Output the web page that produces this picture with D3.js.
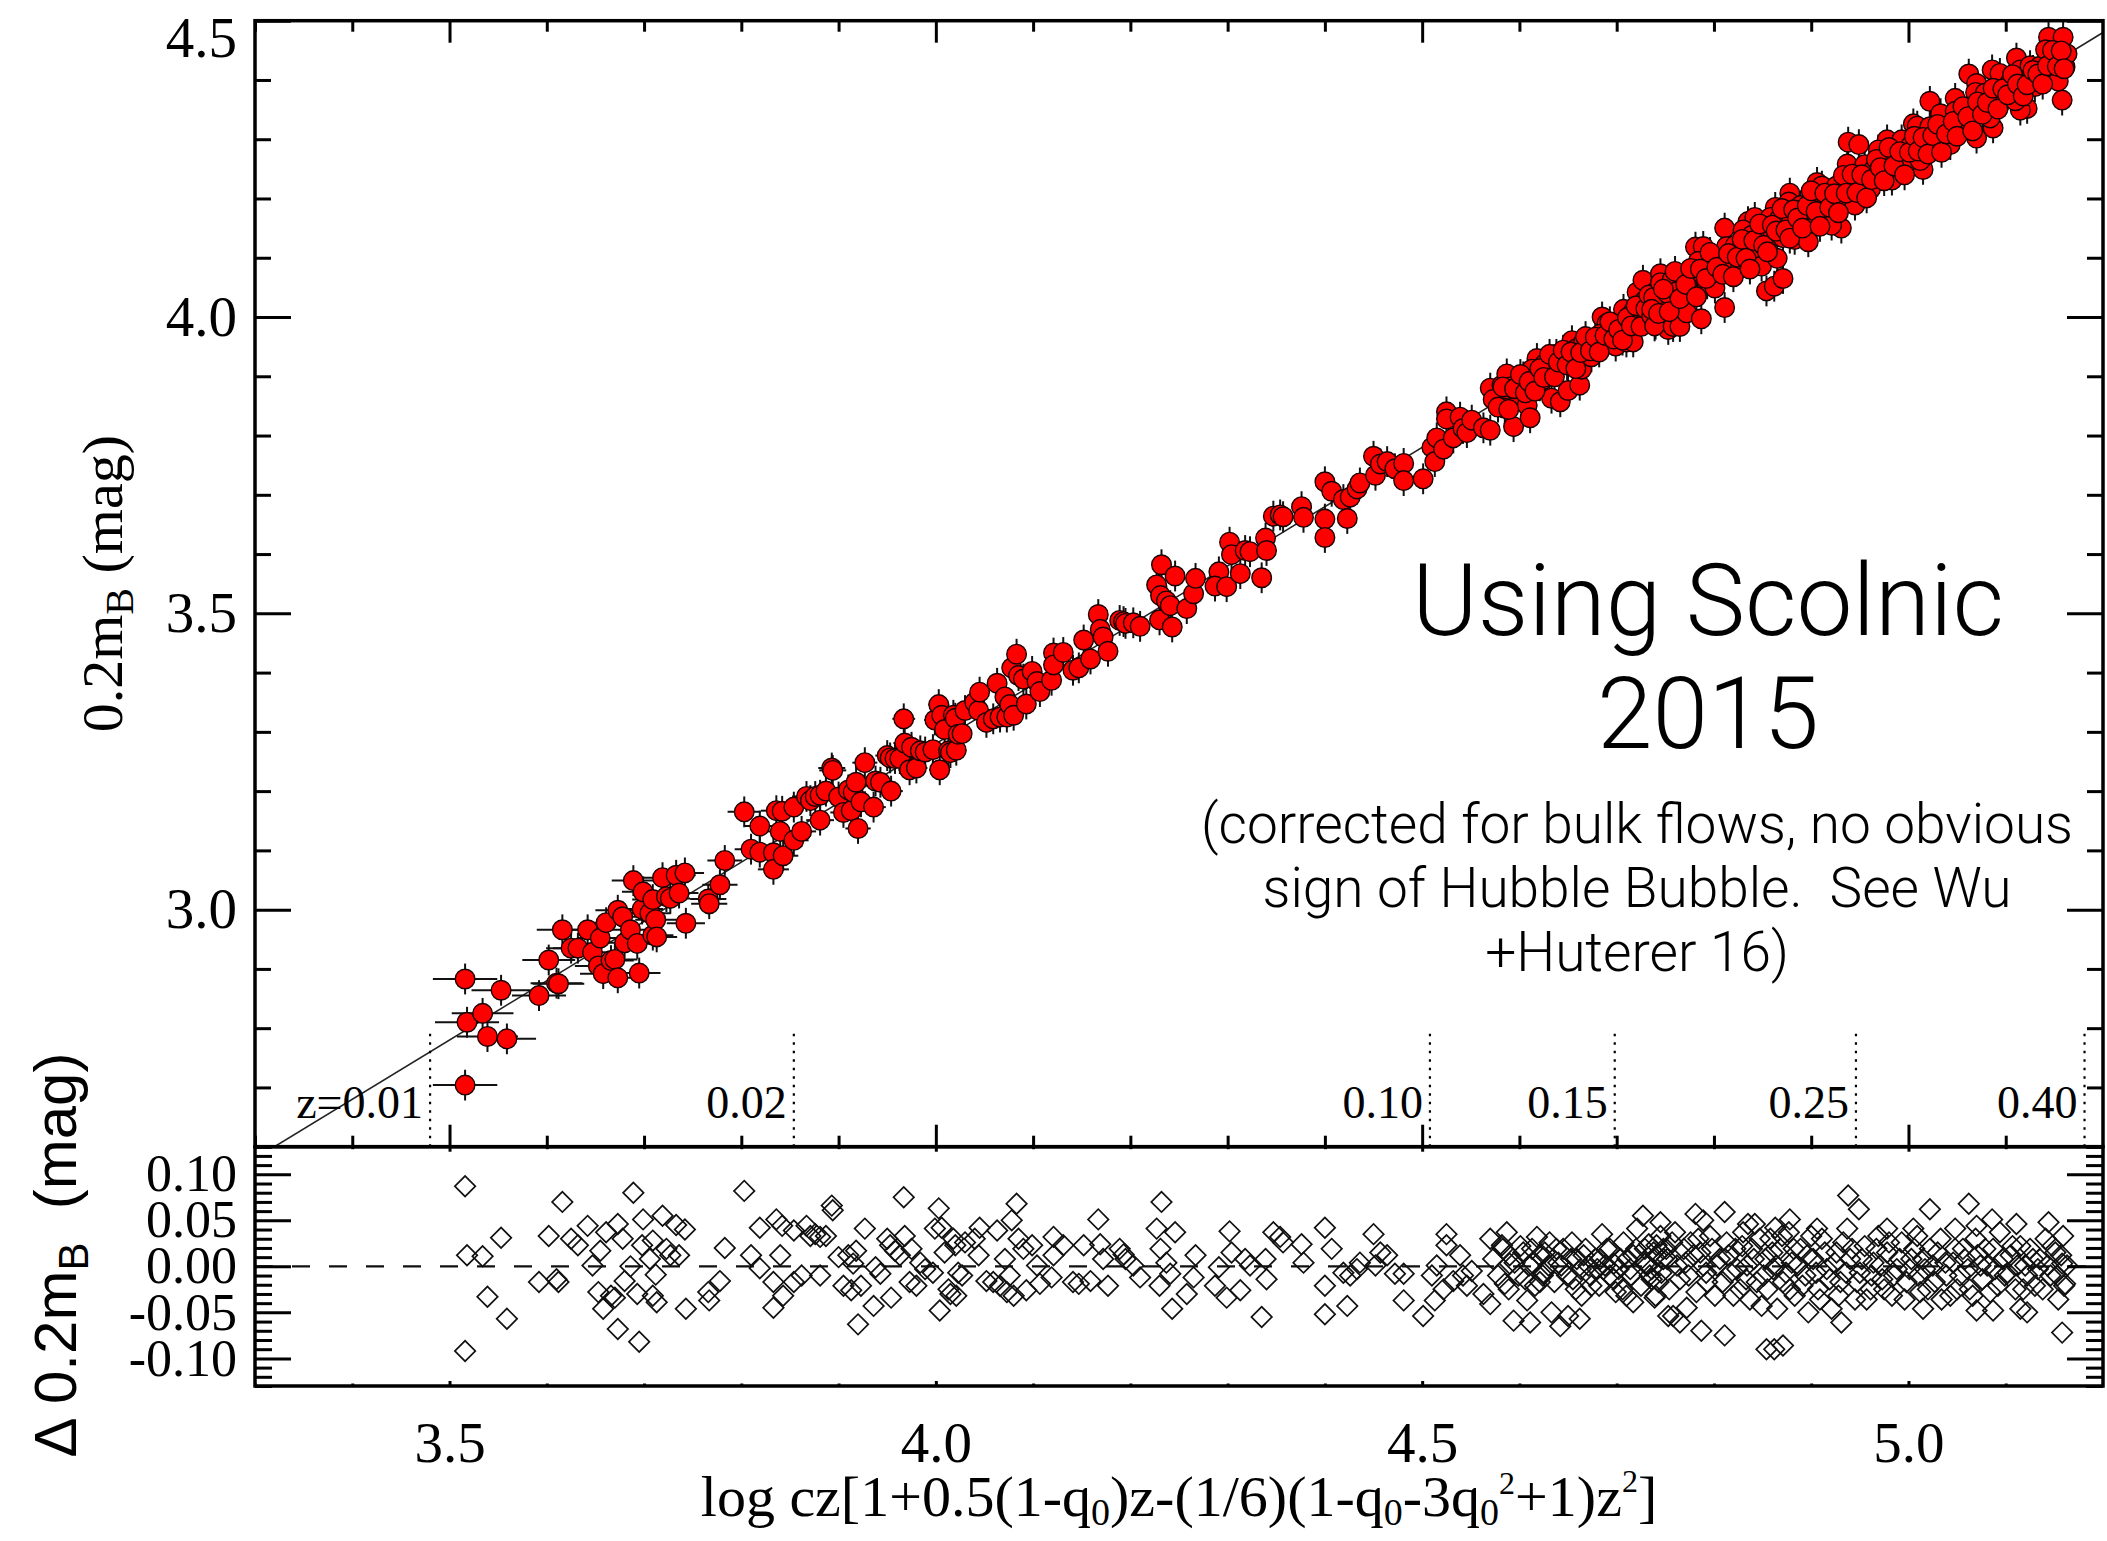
<!DOCTYPE html>
<html>
<head>
<meta charset="utf-8">
<script src="https://cdn.jsdelivr.net/npm/d3@7"></script>
<style>
  html, body { margin: 0; padding: 0; background: #fff; }
  svg { display: block; }
</style>
</head>
<body>
<svg id="chart" width="2107" height="1541"></svg>
<script>
// ---- Hubble-flow supernovae: log cz[...] and residual from the fit (in 0.2 m_B) ----
const logcz = [
  3.516,3.518,3.516,3.534,3.553,3.539,3.559,3.592,3.602,3.610,3.612,3.616,3.625,3.632,3.642,3.647,
  3.653,3.655,3.658,3.661,3.666,3.670,3.673,3.673,3.678,3.680,3.686,3.689,3.693,3.695,3.698,3.699,
  3.706,3.709,3.709,3.712,3.713,3.719,3.723,3.727,3.733,3.736,3.742,3.743,3.766,3.767,3.778,3.783,
  3.803,3.810,3.819,3.819,3.833,3.836,3.840,3.842,3.833,3.843,3.854,3.854,3.862,3.867,3.871,3.876,
  3.881,3.881,3.887,3.893,3.894,3.900,3.905,3.910,3.913,3.915,3.918,3.920,3.923,3.927,3.936,3.938,
  3.943,3.950,3.953,3.954,3.958,3.963,3.967,3.968,3.973,3.975,3.980,3.984,3.989,3.997,3.999,4.003,
  4.004,4.006,4.009,4.013,4.015,4.018,4.020,4.021,4.023,4.027,4.030,4.040,4.044,4.045,4.052,4.059,
  4.063,4.066,4.071,4.073,4.076,4.078,4.080,4.083,4.085,4.090,4.093,4.099,4.104,4.107,4.119,4.121,
  4.121,4.131,4.141,4.147,4.152,4.159,4.167,4.169,4.172,4.177,4.189,4.193,4.195,4.203,4.210,4.227,
  4.231,4.230,4.232,4.237,4.241,4.243,4.246,4.258,4.265,4.267,
  4.291,4.287,4.302,4.304,4.299,4.313,4.318,4.323,4.335,4.339,4.340,4.347,4.354,4.357,4.376,4.378,
  4.400,4.407,4.400,4.400,4.419,4.423,4.426,4.433,4.436,4.450,4.452,4.457,4.464,4.472,4.481,4.481,
  4.501,4.510,4.513,4.515,4.525,4.525,4.522,4.532,4.539,4.542,4.546,4.551,4.563,4.570,4.570,4.582,
  4.587,4.590,4.585,4.594,4.599,4.604,4.608,4.611,4.614,4.618,4.621,4.626,4.630,4.633,4.638,4.642,
  4.650,4.654,4.655,4.659,4.662,4.664,4.671,4.674,4.680,4.685,4.690,4.693,4.699,4.704,4.707,4.710,
  4.714,4.717,4.721,4.727,4.729,4.734,4.740,4.745,4.748,4.753,
  4.590,4.613,4.624,4.643,4.666,4.683,4.697,4.717,4.731,4.741,
  4.573,4.578,4.583,4.589,4.595,4.601,4.606,4.610,4.616,4.621,4.625,4.631,4.636,4.640,4.645,4.649,
  4.653,4.658,4.663,4.668,4.673,4.678,4.682,4.688,4.693,4.697,4.702,4.706,4.711,4.715,4.720,4.725,
  4.730,4.736,4.741,4.746,4.751,
  4.739,4.758,4.765,4.772,4.787,4.811,4.811,4.781,4.789,4.854,4.862,4.871,4.938,4.949,4.931,5.022,
  5.062,5.158,5.015,5.070,5.087,5.122,5.115,5.086,5.111,5.144,5.159,5.161,5.158,5.070,5.048,5.005,
  4.978,4.906,4.878,4.863,4.835,4.842,
  4.733,4.738,4.745,4.752,4.757,4.762,4.769,4.774,4.779,4.784,4.789,4.793,4.798,4.801,4.806,4.813,
  4.817,4.822,4.827,4.830,4.834,4.839,4.844,4.849,4.853,4.858,4.861,4.865,4.868,4.871,4.877,4.880,
  4.883,4.889,4.894,4.897,4.902,4.907,4.911,4.916,4.921,4.926,4.930,4.937,4.940,4.945,4.950,4.955,
  4.961,4.964,4.969,4.973,4.978,4.983,4.988,4.993,4.998,5.003,5.009,5.012,5.017,5.022,5.027,5.033,
  5.038,5.043,5.048,5.053,5.058,5.063,5.069,5.074,5.079,5.084,5.089,5.094,5.099,5.105,5.110,5.115,
  5.120,5.125,5.130,5.135,5.141,5.146,5.151,5.154,5.163,
  4.736,4.743,4.748,4.754,4.760,4.765,4.771,4.776,4.782,4.786,4.792,4.796,4.803,4.809,4.815,4.820,
  4.824,4.829,4.833,4.837,4.841,4.847,4.851,4.855,4.860,4.864,4.870,4.874,4.878,4.882,4.886,4.891,
  4.896,4.900,4.905,4.909,4.914,4.919,4.924,4.928,4.933,4.936,4.942,4.947,4.952,4.957,4.962,4.967,
  4.971,4.975,4.980,4.985,4.991,4.996,5.001,5.006,5.010,5.015,5.020,5.025,5.030,5.034,5.039,5.046,
  5.050,5.056,5.061,5.066,5.071,5.076,5.081,5.087,5.092,5.097,5.102,5.107,5.112,5.118,5.122,5.128,
  5.133,5.138,5.143,5.148,5.153,5.157,5.160
];
const resid = [
  0.087,0.012,-0.092,0.011,0.031,-0.033,-0.057,-0.017,0.033,-0.014,-0.017,0.070,0.030,0.023,0.044,0.001,
  -0.028,0.017,-0.046,0.037,-0.032,-0.034,0.046,-0.068,0.030,-0.016,0.000,0.080,-0.030,-0.082,0.023,0.051,
  0.008,0.028,-0.032,-0.009,-0.039,0.055,0.019,0.012,0.045,0.012,0.040,-0.046,-0.028,-0.037,-0.016,0.020,
  0.082,0.012,0.042,-0.002,-0.017,0.051,0.012,0.044,-0.045,-0.032,0.039,-0.017,-0.010,0.044,0.033,0.035,
  0.032,-0.010,0.033,0.066,0.061,0.010,-0.021,0.012,-0.026,0.003,0.017,-0.063,-0.021,0.041,-0.043,-0.001,
  -0.008,0.030,0.023,-0.034,0.017,0.012,0.075,0.033,-0.017,0.019,-0.021,0.004,-0.003,-0.007,0.041,0.063,
  -0.048,0.042,0.015,-0.025,-0.030,0.030,0.023,-0.032,-0.007,-0.010,0.026,0.030,0.012,0.042,-0.016,-0.017,
  0.039,-0.021,0.008,-0.028,-0.010,0.050,-0.032,0.068,0.030,0.019,-0.026,0.023,0.001,-0.019,-0.012,0.032,
  0.012,0.023,-0.017,-0.019,0.023,-0.016,0.051,0.024,0.008,-0.021,0.019,0.013,0.008,0.001,-0.012,0.041,
  0.019,-0.021,0.070,0.004,-0.008,-0.046,0.037,-0.030,-0.012,0.012,
  -0.001,-0.021,0.038,0.015,-0.034,-0.026,0.008,0.001,-0.055,0.008,-0.014,0.037,0.032,0.026,0.024,0.004,
  0.042,0.019,-0.021,-0.052,-0.007,-0.043,-0.010,-0.003,0.004,0.035,0.001,0.015,0.012,-0.008,-0.008,-0.037,
  -0.054,-0.010,-0.037,0.001,0.035,0.023,-0.025,-0.016,0.012,-0.010,-0.021,-0.005,-0.030,0.030,-0.041,0.023,
  0.037,0.003,-0.019,-0.059,-0.010,0.015,-0.037,-0.061,0.003,0.032,-0.017,0.015,0.001,-0.050,0.019,-0.065,
  -0.054,0.026,-0.014,0.008,-0.057,-0.032,0.001,-0.021,-0.003,0.035,0.019,-0.010,-0.028,0.008,0.026,-0.032,
  -0.003,-0.039,0.041,0.055,0.019,-0.010,-0.032,0.048,0.008,-0.054,
  0.012,0.019,-0.010,0.001,0.012,0.008,0.003,0.012,0.001,0.023,
  0.008,-0.010,0.019,-0.025,0.004,0.022,-0.014,0.001,-0.021,0.012,-0.007,0.026,-0.017,0.004,0.019,-0.010,
  0.008,-0.025,-0.003,0.019,-0.010,0.008,-0.021,0.001,0.019,-0.014,-0.003,-0.025,0.008,-0.010,0.019,-0.021,
  0.004,-0.014,0.012,-0.007,0.019,
  -0.034,-0.054,-0.061,-0.045,-0.070,-0.075,0.059,0.057,0.050,-0.090,-0.090,-0.086,0.077,0.062,-0.061,0.062,
  0.068,-0.072,-0.046,-0.048,-0.048,-0.050,-0.046,0.051,0.046,0.048,0.033,-0.019,0.003,0.044,0.041,0.041,
  0.041,0.041,0.051,0.042,0.046,0.046,
  0.024,0.015,0.033,0.008,0.026,0.001,0.019,-0.010,0.012,0.030,0.001,-0.017,0.019,-0.032,0.008,0.026,
  -0.007,0.019,-0.025,0.037,0.001,0.019,-0.017,-0.043,0.008,0.030,-0.003,-0.046,0.019,-0.017,0.037,0.004,
  -0.032,0.019,-0.010,-0.050,0.008,-0.025,0.030,-0.003,-0.046,0.015,-0.017,0.041,0.008,-0.036,-0.007,0.022,
  -0.025,0.004,0.033,-0.014,0.015,-0.032,-0.003,0.026,-0.017,0.008,0.033,-0.028,-0.003,0.019,-0.017,0.030,
  0.004,-0.032,0.019,-0.010,0.008,-0.025,0.030,0.001,0.019,-0.028,-0.003,0.037,-0.010,0.012,-0.025,0.022,
  0.001,0.019,-0.021,0.008,0.030,-0.010,0.015,-0.036,0.001,
  -0.003,-0.017,0.019,-0.025,0.037,-0.014,0.004,0.026,-0.028,0.015,-0.007,0.033,0.001,-0.017,0.012,-0.032,
  -0.003,0.022,-0.014,-0.036,0.008,0.030,-0.010,-0.025,0.015,0.001,0.033,-0.007,-0.025,0.019,0.001,-0.021,
  0.012,0.033,-0.007,-0.036,0.015,-0.014,0.004,-0.032,0.026,-0.007,0.019,-0.017,0.008,-0.036,-0.010,0.019,
  0.001,-0.025,0.026,-0.010,0.008,-0.036,-0.003,0.019,-0.010,0.008,-0.025,0.001,0.015,-0.036,-0.010,0.004,
  -0.025,0.019,-0.003,-0.032,0.012,-0.014,0.001,0.019,-0.021,0.008,-0.007,0.022,0.001,-0.025,-0.010,0.008,
  -0.003,-0.025,0.001,0.022,-0.010,0.012,-0.021
];

// Fit intercept (0.2 m_B = log cz[...] - aB), peculiar-velocity and magnitude errors
const aB = 0.720;
const sigmaVel = 250;          // km/s
const sigmaMag = 0.026;        // in 0.2 m_B units

// Redshift markers along the lower edge of the Hubble diagram
const zMarkLabels = ["z=0.01", "0.02", "0.10", "0.15", "0.25", "0.40"];
const zMarkPos    = [3.480, 3.854, 4.508, 4.698, 4.946, 5.181];

// Axis ticks
const xMajor = [3.5, 4.0, 4.5, 5.0];
const xMinor = [3.3, 3.4, 3.6, 3.7, 3.8, 3.9, 4.1, 4.2, 4.3, 4.4, 4.6, 4.7, 4.8, 4.9, 5.1];
const yMajor = [3.0, 3.5, 4.0, 4.5];
const yMinor = [2.6, 2.7, 2.8, 2.9, 3.1, 3.2, 3.3, 3.4, 3.6, 3.7, 3.8, 3.9, 4.1, 4.2, 4.3, 4.4];
const rMajor = [-0.10, -0.05, 0.00, 0.05, 0.10];
const rMinor = [-0.13,-0.12,-0.11,-0.09,-0.08,-0.07,-0.06,-0.04,-0.03,-0.02,-0.01,
                 0.01, 0.02, 0.03, 0.04, 0.06, 0.07, 0.08, 0.09, 0.11, 0.12, 0.13];

const noteBig   = ["Using Scolnic", "2015"];
const noteSmall = ["(corrected for bulk flows, no obvious",
                   "sign of Hubble Bubble.  See Wu",
                   "+Huterer 16)"];

// ---- layout ----
const L = 255, R = 2103, T = 20.7, M = 1146.7, B = 1386;
const SERIF = "'Liberation Serif','Times New Roman',Times,serif";
const SANS  = "'Liberation Sans',Arial,Helvetica,sans-serif";
const LIGHT = "'Helvetica Neue',Roboto,'Liberation Sans',sans-serif";
const TICK_FS = 57;
const RES_FS = 52;

const x    = d3.scaleLinear().domain([3.3, 5.2]).range([L, R]);
const yTop = d3.scaleLinear().domain([2.6, 4.5]).range([M, T]);
const yRes = d3.scaleLinear().domain([-0.13, 0.13]).range([B, M]);

const svg = d3.select("#chart");
svg.append("rect").attr("width", 2107).attr("height", 1541).attr("fill", "#fff");

const defs = svg.append("defs");
defs.append("clipPath").attr("id", "clipTop")
  .append("rect").attr("x", L).attr("y", T).attr("width", R - L).attr("height", M - T);
defs.append("clipPath").attr("id", "clipRes")
  .append("rect").attr("x", L).attr("y", M).attr("width", R - L).attr("height", B - M);

const nSN = Math.min(logcz.length, resid.length);
const sne = d3.range(nSN).map(i => ({
  x: logcz[i],
  d: resid[i],
  m: logcz[i] - aB + resid[i],
  dx: 0.4343 * sigmaVel / Math.pow(10, logcz[i])
}));

// ---- upper panel: Hubble diagram ----
const gHubble = svg.append("g").attr("clip-path", "url(#clipTop)");

// best-fit line
gHubble.append("path")
  .datum([3.3, 5.2])
  .attr("d", d3.line().x(d => x(d)).y(d => yTop(d - aB)))
  .attr("stroke", "#222").attr("stroke-width", 1.6).attr("fill", "none");

// redshift marker lines
gHubble.selectAll("line.zmark").data(zMarkPos).join("line")
  .attr("class", "zmark")
  .attr("x1", d => x(d)).attr("x2", d => x(d))
  .attr("y1", yTop(2.6)).attr("y2", yTop(2.8))
  .attr("stroke", "#000").attr("stroke-width", 2.2)
  .attr("stroke-dasharray", "2.5,6");

// error bars
const eb = gHubble.append("g").attr("stroke", "#111").attr("stroke-width", 2);
eb.selectAll("line.ex").data(sne).join("line")
  .attr("class", "ex")
  .attr("x1", d => x(d.x - d.dx)).attr("x2", d => x(d.x + d.dx))
  .attr("y1", d => yTop(d.m)).attr("y2", d => yTop(d.m));
eb.selectAll("line.ey").data(sne).join("line")
  .attr("class", "ey")
  .attr("x1", d => x(d.x)).attr("x2", d => x(d.x))
  .attr("y1", d => yTop(d.m - sigmaMag)).attr("y2", d => yTop(d.m + sigmaMag));

// supernovae
gHubble.selectAll("circle.sn").data(sne).join("circle")
  .attr("class", "sn")
  .attr("cx", d => x(d.x)).attr("cy", d => yTop(d.m))
  .attr("r", 9.8)
  .attr("fill", "#ff0000").attr("stroke", "#1a0000").attr("stroke-width", 1.4);

// redshift labels
svg.selectAll("text.zlab").data(zMarkPos).join("text")
  .attr("class", "zlab")
  .attr("x", d => x(d) - 7).attr("y", 1118)
  .attr("text-anchor", "end")
  .attr("font-family", SERIF).attr("font-size", 46)
  .text((d, i) => zMarkLabels[i]);

// ---- lower panel: residuals ----
const gRes = svg.append("g").attr("clip-path", "url(#clipRes)");
gRes.append("path")
  .datum([3.3, 5.2])
  .attr("d", d3.line().x(d => x(d)).y(() => yRes(0)))
  .attr("stroke", "#111").attr("stroke-width", 2.2).attr("fill", "none")
  .attr("stroke-dasharray", "18,19");

const diamond = d3.symbol().type(d3.symbolSquare).size(210);
gRes.selectAll("path.dm").data(sne).join("path")
  .attr("class", "dm")
  .attr("d", diamond)
  .attr("transform", d => `translate(${x(d.x)},${yRes(d.d)}) rotate(45)`)
  .attr("fill", "none").attr("stroke", "#111").attr("stroke-width", 1.7);

// ---- axes ----
function styleAxis(g, fs) {
  g.select(".domain").remove();
  g.selectAll(".tick line").attr("stroke", "#000").attr("stroke-width", 3);
  g.selectAll(".tick text").attr("font-family", SERIF).attr("font-size", fs || TICK_FS).attr("fill", "#000");
}
function addAxis(axis, tx, ty, fs) {
  return svg.append("g").attr("transform", `translate(${tx},${ty})`).call(axis).call(styleAxis, fs);
}
const noLabel = () => "";

// upper panel, y
const yLab = addAxis(d3.axisLeft(yTop).tickValues(yMajor).tickSize(-36).tickPadding(18).tickFormat(d3.format(".1f")), L, 0);
// the topmost label sits just below the frame corner
yLab.selectAll(".tick text").filter(d => d === 4.5).attr("dy", "0.62em");
addAxis(d3.axisLeft(yTop).tickValues(yMinor).tickSize(-16).tickFormat(noLabel), L, 0);
addAxis(d3.axisRight(yTop).tickValues(yMajor).tickSize(-36).tickFormat(noLabel), R, 0);
addAxis(d3.axisRight(yTop).tickValues(yMinor).tickSize(-16).tickFormat(noLabel), R, 0);
// upper panel, x
addAxis(d3.axisTop(x).tickValues(xMajor).tickSize(-22).tickFormat(noLabel), 0, T);
addAxis(d3.axisTop(x).tickValues(xMinor).tickSize(-11).tickFormat(noLabel), 0, T);
addAxis(d3.axisBottom(x).tickValues(xMajor).tickSize(-22).tickFormat(noLabel), 0, M);
addAxis(d3.axisBottom(x).tickValues(xMinor).tickSize(-11).tickFormat(noLabel), 0, M);
// lower panel, y
addAxis(d3.axisLeft(yRes).tickValues(rMajor).tickSize(-36).tickPadding(18).tickFormat(d => d.toFixed(2)), L, 0, RES_FS);
addAxis(d3.axisLeft(yRes).tickValues(rMinor).tickSize(-17).tickFormat(noLabel), L, 0);
addAxis(d3.axisRight(yRes).tickValues(rMajor).tickSize(-36).tickFormat(noLabel), R, 0);
addAxis(d3.axisRight(yRes).tickValues(rMinor).tickSize(-17).tickFormat(noLabel), R, 0);
// lower panel, x
addAxis(d3.axisTop(x).tickValues(xMajor).tickSize(-5).tickFormat(noLabel), 0, M);
addAxis(d3.axisTop(x).tickValues(xMinor).tickSize(-2.5).tickFormat(noLabel), 0, M);
addAxis(d3.axisBottom(x).tickValues(xMajor).tickSize(-5).tickPadding(36).tickFormat(d3.format(".1f")), 0, B);
addAxis(d3.axisBottom(x).tickValues(xMinor).tickSize(-2.5).tickFormat(noLabel), 0, B);

// frames
[[T, M], [M, B]].forEach(([a, b]) => {
  svg.append("rect")
    .attr("x", L).attr("y", a).attr("width", R - L).attr("height", b - a)
    .attr("fill", "none").attr("stroke", "#000").attr("stroke-width", 3.5);
});

// ---- axis titles ----
const yt = svg.append("text")
  .attr("transform", `translate(122,${(T + M) / 2}) rotate(-90)`)
  .attr("text-anchor", "middle")
  .attr("font-family", SERIF).attr("font-size", 58);
yt.append("tspan").text("0.2m");
yt.append("tspan").attr("font-size", 40).attr("dy", 11).text("B");
yt.append("tspan").attr("dy", -11).text(" (mag)");

const rt = svg.append("text")
  .attr("transform", `translate(76,1255) rotate(-90)`)
  .attr("text-anchor", "middle")
  .attr("font-family", SANS).attr("font-size", 60)
  .style("white-space", "pre");
rt.append("tspan").text("\u0394 0.2m");
rt.append("tspan").attr("font-size", 42).attr("dy", 12).text("B");
rt.append("tspan").attr("dy", -12).text("  (mag)");

const xt = svg.append("text")
  .attr("x", (L + R) / 2).attr("y", 1516)
  .attr("text-anchor", "middle")
  .attr("font-family", SERIF).attr("font-size", 58);
const parts = [
  ["log cz[1+0.5(1-q", 0, 58], ["0", 9, 38], [")z-(1/6)(1-q", -9, 58], ["0", 9, 38],
  ["-3q", -9, 58], ["0", 9, 38], ["2", -31, 32], ["+1)z", 22, 58], ["2", -24, 32], ["]", 24, 58]
];
parts.forEach(([t, dy, fs]) => xt.append("tspan").attr("dy", dy).attr("font-size", fs).text(t));

// ---- annotation ----
const note = svg.append("g").attr("font-family", LIGHT).attr("font-weight", 300).attr("fill", "#000");
note.selectAll("text.big").data(noteBig).join("text")
  .attr("class", "big")
  .attr("x", 1708).attr("y", (d, i) => 635 + i * 113)
  .attr("text-anchor", "middle").attr("font-size", 100)
  .text(d => d);
note.selectAll("text.small").data(noteSmall).join("text")
  .attr("class", "small")
  .attr("x", 1637).attr("y", (d, i) => 843 + i * 64)
  .attr("text-anchor", "middle").attr("font-size", 55)
  .style("white-space", "pre")
  .text(d => d);
</script>
</body>
</html>
